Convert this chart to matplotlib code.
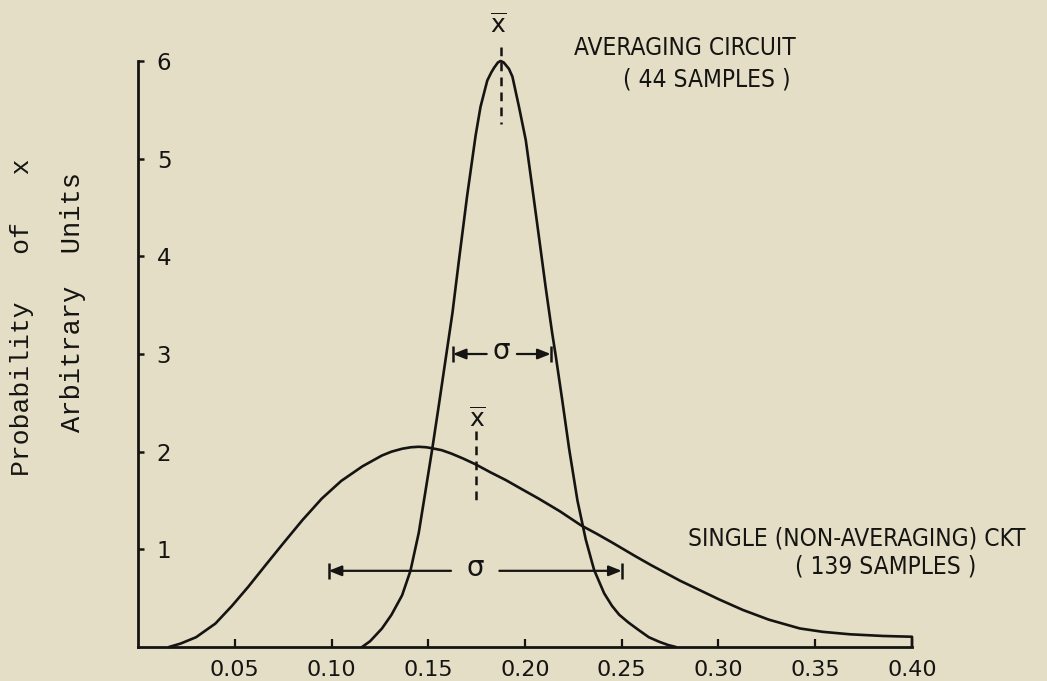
import matplotlib
matplotlib.use("Agg")
import matplotlib.pyplot as plt
from matplotlib import font_manager as fm

# ---- data -------------------------------------------------------------
# Averaging circuit (44 samples)
avg_x = [0.1158, 0.1200, 0.1261, 0.1310, 0.1365, 0.1408, 0.1451, 0.1486,
         0.1520, 0.1555, 0.1590, 0.1625, 0.1658, 0.1701, 0.1745, 0.1770,
         0.1805, 0.1825, 0.1840, 0.1860, 0.1874, 0.1890, 0.1917, 0.1935,
         0.1969, 0.2004, 0.2038, 0.2072, 0.2107, 0.2140, 0.2159, 0.2193,
         0.2228, 0.2271, 0.2314, 0.2357, 0.2409, 0.2450, 0.2487, 0.2535,
         0.2590, 0.2640, 0.2693, 0.2740, 0.2780]
avg_y = [0.000, 0.060, 0.190, 0.330, 0.530, 0.780, 1.170, 1.600,
         2.020, 2.480, 2.950, 3.420, 3.950, 4.620, 5.240, 5.530,
         5.800, 5.880, 5.930, 5.985, 6.000, 5.985, 5.920, 5.840,
         5.530, 5.190, 4.700, 4.200, 3.680, 3.220, 2.980, 2.520,
         2.030, 1.500, 1.100, 0.790, 0.550, 0.420, 0.330, 0.250,
         0.170, 0.100, 0.054, 0.020, 0.000]

# Single (non-averaging) circuit (139 samples)
single_x = [0.0160, 0.0220, 0.0300, 0.0400, 0.0485, 0.0570, 0.0660, 0.0750,
            0.0850, 0.0950, 0.1050, 0.1160, 0.1260, 0.1310, 0.1365, 0.1410,
            0.1450, 0.1490, 0.1520, 0.1570, 0.1620, 0.1680, 0.1745, 0.1820,
            0.1900, 0.1980, 0.2070, 0.2180, 0.2290, 0.2370, 0.2450, 0.2510,
            0.2570, 0.2650, 0.2800, 0.2900, 0.3000, 0.3125, 0.3260, 0.3420,
            0.3540, 0.3680, 0.3850, 0.4000, 0.4000]
single_y = [0.000, 0.035, 0.100, 0.240, 0.420, 0.617, 0.840, 1.060,
            1.300, 1.520, 1.700, 1.850, 1.960, 2.000, 2.030, 2.045,
            2.050, 2.045, 2.035, 2.015, 1.980, 1.930, 1.870, 1.790,
            1.710, 1.620, 1.520, 1.390, 1.245, 1.160, 1.070, 1.000,
            0.930, 0.840, 0.680, 0.585, 0.490, 0.380, 0.280, 0.190,
            0.155, 0.130, 0.113, 0.105, 0.000]

# means and standard-deviation spans
avg_mean = 0.1874
single_mean = 0.1745
avg_sigma_span = (0.1627, 0.2133)
single_sigma_span = (0.0985, 0.2500)

x_ticks = [0.05, 0.10, 0.15, 0.20, 0.25, 0.30, 0.35, 0.40]
x_tick_labels = ["0.05", "0.10", "0.15", "0.20", "0.25", "0.30", "0.35", "0.40"]
y_ticks = [1, 2, 3, 4, 5, 6]
y_tick_labels = ["1", "2", "3", "4", "5", "6"]

# ---- style ------------------------------------------------------------
BG = "#e3dec5"
INK = "#161412"

# a narrow sans for the hand-lettered captions, if one is available
_cond = fm.findfont(fm.FontProperties(family="DejaVu Sans", stretch="condensed"))
if "Condensed" in _cond:
    HAND = dict(family="DejaVu Sans", stretch="condensed")
    CAP = 17.6
else:
    HAND = dict(family="DejaVu Sans")
    CAP = 15.5

fig = plt.figure(figsize=(10.47, 6.81), dpi=100, facecolor=BG)
ax = fig.add_axes([138 / 1047, 34 / 681, (912 - 138) / 1047, (647 - 61) / 681])
ax.set_facecolor(BG)

ax.plot(avg_x, avg_y, color=INK, lw=1.9, solid_capstyle="round",
        solid_joinstyle="round", clip_on=False)
ax.plot(single_x, single_y, color=INK, lw=1.9, solid_capstyle="round",
        solid_joinstyle="round", clip_on=False)

ax.set_xlim(0, 0.40)
ax.set_ylim(0, 6)

for side in ("top", "right"):
    ax.spines[side].set_visible(False)
for side in ("left", "bottom"):
    ax.spines[side].set_linewidth(2.0)
    ax.spines[side].set_color(INK)

ax.set_xticks(x_ticks)
ax.set_xticklabels(x_tick_labels, fontsize=16, color=INK, family="DejaVu Sans")
ax.set_yticks(y_ticks)
ax.set_yticklabels(y_tick_labels, fontsize=16.5, color=INK, family="DejaVu Sans")
ax.tick_params(axis="x", direction="in", length=6, width=1.6, pad=9, colors=INK)
ax.tick_params(axis="y", direction="in", length=4, width=1.8, pad=-13.5, colors=INK)
plt.setp(ax.get_yticklabels(), ha="left")

# y-axis caption, typewriter style
fig.text(22 / 1047, 1 - 317 / 681, "Probability   of   x", rotation=90,
         ha="center", va="center", family="Liberation Mono", fontsize=19, color=INK)
fig.text(73 / 1047, 1 - 302 / 681, "Arbitrary  Units", rotation=90,
         ha="center", va="center", family="Liberation Mono", fontsize=19.5, color=INK)

# mean markers
ax.text(avg_mean - 0.0012, 6.37, r"$\overline{\mathrm{x}}$", ha="center", va="center",
        fontsize=18, color=INK, clip_on=False)
ax.plot([avg_mean, avg_mean], [6.14, 5.36], color=INK, lw=1.8,
        dashes=(3.5, 2.5), clip_on=False)
ax.text(single_mean + 0.001, 2.33, r"$\overline{\mathrm{x}}$", ha="center", va="center",
        fontsize=18, color=INK)
ax.plot([single_mean, single_mean], [2.21, 1.51], color=INK, lw=1.8, dashes=(3.5, 2.5))


def sigma_span(lo, hi, y, gap):
    mid = 0.5 * (lo + hi)
    arrow = dict(arrowstyle="-|>,head_length=0.55,head_width=0.22", color=INK,
                 lw=1.6, shrinkA=0, shrinkB=0, mutation_scale=14)
    ax.annotate("", xy=(lo, y), xytext=(mid - gap, y), arrowprops=arrow)
    ax.annotate("", xy=(hi, y), xytext=(mid + gap, y), arrowprops=arrow)
    ax.plot([lo, hi], [y, y], ls="none", marker="|", markersize=11, mew=1.8, color=INK)
    ax.text(mid, y + 0.03, "σ", ha="center", va="center", fontsize=20, color=INK,
            family="DejaVu Sans")


sigma_span(*avg_sigma_span, 3.0, 0.0078)
sigma_span(*single_sigma_span, 0.78, 0.0125)

# curve captions
ax.text(0.2825, 6.13, "AVERAGING CIRCUIT", ha="center", va="center",
        fontsize=CAP, color=INK, clip_on=False, **HAND)
ax.text(0.2940, 5.81, "( 44 SAMPLES )", ha="center", va="center",
        fontsize=CAP, color=INK, clip_on=False, **HAND)
ax.text(0.3716, 1.115, "SINGLE (NON-AVERAGING) CKT", ha="center", va="center",
        fontsize=CAP, color=INK, clip_on=False, **HAND)
ax.text(0.3866, 0.82, "( 139 SAMPLES )", ha="center", va="center",
        fontsize=CAP, color=INK, clip_on=False, **HAND)

fig.savefig("out.png", dpi=100, facecolor=BG)
